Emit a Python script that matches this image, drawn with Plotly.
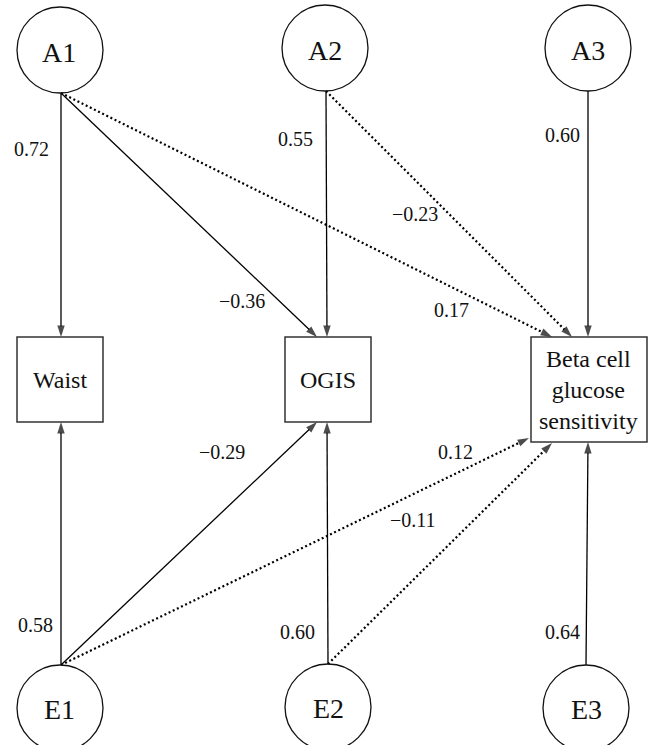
import plotly.graph_objects as go

# ---------------- data ----------------
latent_nodes = ["A1", "A2", "A3", "E1", "E2", "E3"]
observed_nodes = ["Waist", "OGIS", "Beta cell<br>glucose<br>sensitivity"]

path_from = ["A1", "A1", "A1", "A2", "A2", "A3", "E1", "E1", "E1", "E2", "E2", "E3"]
path_to = ["Waist", "OGIS", "Beta", "OGIS", "Beta", "Beta",
           "Waist", "OGIS", "Beta", "OGIS", "Beta", "Beta"]
path_coef = [0.72, -0.36, 0.17, 0.55, -0.23, 0.60,
             0.58, -0.29, 0.12, 0.60, -0.11, 0.64]
path_kind = ["direct", "direct", "cross", "direct", "cross", "direct",
             "direct", "direct", "cross", "direct", "cross", "direct"]

# ---------------- layout (pixel space) ----------------
W, H = 649, 745
R = 43
circle_pos = {"A1": (60, 50), "A2": (325, 48), "A3": (588, 48),
              "E1": (60, 708), "E2": (328, 707), "E3": (586, 708)}
box_pos = {"Waist": (17, 337, 103, 422), "OGIS": (285, 337, 371, 422),
           "Beta": (531, 337, 647, 442)}
box_keys = ["Waist", "OGIS", "Beta"]
text_pos_latent = {"A1": (59, 52), "A2": (325, 50), "A3": (588, 50),
                   "E1": (59, 709), "E2": (328, 708), "E3": (586, 709)}
text_pos_box = {"Waist": (60, 380), "OGIS": (328, 380), "Beta": (588, 390)}

# endpoints of each path (start on circle, tip on box)
path_ends = [
    ((61, 93), (61, 337)),
    ((61, 93), (317, 337)),
    ((61, 93), (552, 337)),
    ((326, 91), (327, 337)),
    ((326, 91), (572, 337)),
    ((588, 91), (588, 337)),
    ((61, 665), (61, 422)),
    ((61, 665), (317, 422)),
    ((61, 665), (529, 438)),
    ((328, 664), (327, 422)),
    ((328, 664), (552, 443)),
    ((586, 665), (588, 442)),
]
label_pos = [(31, 149), (242, 301), (451, 310), (295, 139), (415, 214), (562, 135),
             (35, 625), (222, 452), (455, 452), (297, 632), (413, 520), (562, 632)]

INK = "#000000"
FONT = "'Liberation Serif', 'Times New Roman', Times, serif"

fig = go.Figure()

for i, (src, dst) in enumerate(zip(path_from, path_to)):
    (x0, y0), (x1, y1) = path_ends[i]
    dotted = path_kind[i] == "cross"
    fig.add_trace(go.Scatter(
        x=[x0, x1], y=[y0, y1], mode="lines+markers",
        line=dict(color=INK, width=2.2 if dotted else 1.3,
                  dash="2px,2.6px" if dotted else "solid"),
        marker=dict(symbol="arrow", size=[0, 12], angleref="previous",
                    color=INK, line=dict(width=0)),
        hoverinfo="skip", showlegend=False, cliponaxis=False,
    ))

shapes = []
for name in latent_nodes:
    cx, cy = circle_pos[name]
    shapes.append(dict(type="circle", xref="x", yref="y",
                       x0=cx - R, x1=cx + R, y0=cy - R, y1=cy + R,
                       line=dict(color="#111111", width=1.3), fillcolor="rgba(0,0,0,0)"))
for key in box_keys:
    bx0, by0, bx1, by1 = box_pos[key]
    shapes.append(dict(type="rect", xref="x", yref="y",
                       x0=bx0, x1=bx1, y0=by0, y1=by1,
                       line=dict(color="#333333", width=1.5), fillcolor="rgba(0,0,0,0)"))

annotations = []
for name in latent_nodes:
    tx, ty = text_pos_latent[name]
    annotations.append(dict(x=tx, y=ty, xref="x", yref="y", text=name, showarrow=False,
                            font=dict(family=FONT, size=28, color="#111111"),
                            xanchor="center", yanchor="middle"))
for key, label in zip(box_keys, observed_nodes):
    tx, ty = text_pos_box[key]
    annotations.append(dict(x=tx, y=ty, xref="x", yref="y", text=label, showarrow=False,
                            font=dict(family=FONT, size=24, color="#111111"),
                            xanchor="center", yanchor="middle"))
for i, c in enumerate(path_coef):
    lx, ly = label_pos[i]
    annotations.append(dict(x=lx, y=ly, xref="x", yref="y",
                            text=f"{c:.2f}".replace("-", "\u2212"), showarrow=False,
                            font=dict(family=FONT, size=20, color="#111111"),
                            xanchor="center", yanchor="middle"))

fig.update_layout(
    width=W, height=H, margin=dict(l=0, r=0, t=0, b=0),
    paper_bgcolor="white", plot_bgcolor="white",
    font=dict(family=FONT),
    xaxis=dict(range=[0, W], visible=False, fixedrange=True),
    yaxis=dict(range=[H, 0], visible=False, fixedrange=True),
    shapes=shapes, annotations=annotations,
)

fig.write_html("out.html", config={"displayModeBar": False},
               post_script="document.body.style.margin='0';document.body.style.padding='0';document.body.style.overflow='hidden';")
